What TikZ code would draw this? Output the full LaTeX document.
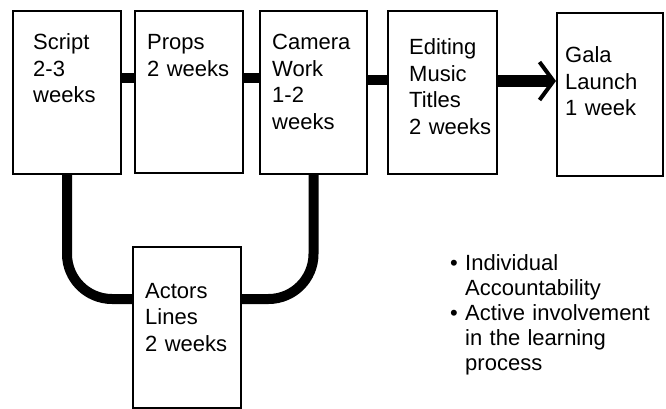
\documentclass[tikz,border=0pt]{standalone}
\usepackage{fontspec}
\setmainfont{Liberation Sans}
\usetikzlibrary{arrows.meta,positioning}

\tikzset{box/.style={draw,line width=2pt,inner sep=0pt,anchor=north west,
		minimum width=108pt,minimum height=163pt},
}

\begin{document}
\begin{tikzpicture}[x=1pt,y=-1pt,
	link/.style={line width=10pt},
	txt/.style={font=\fontsize{22}{26.5}\selectfont,align=left,text width=125pt,inner sep=0pt}]
	\useasboundingbox (0,0) rectangle (666,409);
	
	% boxes
	\node[box] (script) at (12,10) {};
	\node[box,minimum height=162pt] (props) at (134,10) {};
	\node[box,minimum width=107pt] (camera) at (259,10) {};
	\node[box,minimum width=109pt] (editing) at (387,10) {};
	\node[box,minimum width=106pt] (gala) at (556,12) {};
	\node[box,minimum height=161pt] (actors) at (132,246) {};
	
	% texts
	\node[txt] (scripttxt) [below right=40pt and 21pt of script.north west, anchor=base west] {Script\\2-3\\weeks};
	\node[txt] (propstxt) [below right=40pt and 13pt of props.north west, anchor=base west] {Props\\2 weeks};
	\node[txt] (cameratxt) [below right=40pt and 13pt of camera.north west, anchor=base west] {Camera\\Work\\1-2\\weeks};
	\node[txt] (editingtxt) [below right=45pt and 22pt of editing.north west, anchor=base west] {Editing\\Music\\Titles\\2 weeks};
	\node[txt] (galatxt) [below right=51pt and 9pt of gala.north west, anchor=base west] {Gala\\Launch\\1 week};
	\node[txt] (actorstxt) [below right=52pt and 13pt of actors.north west, anchor=base west] {Actors\\Lines\\2 weeks};
	\node[txt,font=\fontsize{22}{25}\selectfont,text width=200pt,anchor=base west] (notes) at (450,270)
	{\textbullet\ Individual\\\hphantom{\textbullet\ }Accountability\\\textbullet\ Active involvement\\\hphantom{\textbullet\ }in the learning\\\hphantom{\textbullet\ }process};
	
	% connectors
	\coordinate (bar) at (0,78);
	\coordinate (bar2) at (0,80);
	\coordinate (arr) at (0,81);
	\coordinate (mid) at (0,299);
	\draw[link] (script.east |- bar) -- (props.west |- bar);
	\draw[link] (props.east |- bar) -- (camera.west |- bar);
	\draw[link] (camera.east |- bar2) -- (editing.west |- bar2);
	\draw[line width=12pt,-{Straight Barb[length=14pt,width=38pt,line width=4pt]}] (editing.east |- arr) -- (gala.west |- arr);
	\draw[link,rounded corners=45pt] (script.south) |- (actors.west |- mid);
	\draw[link,rounded corners=45pt] (camera.south) |- (actors.east |- mid);
\end{tikzpicture}
\end{document}
